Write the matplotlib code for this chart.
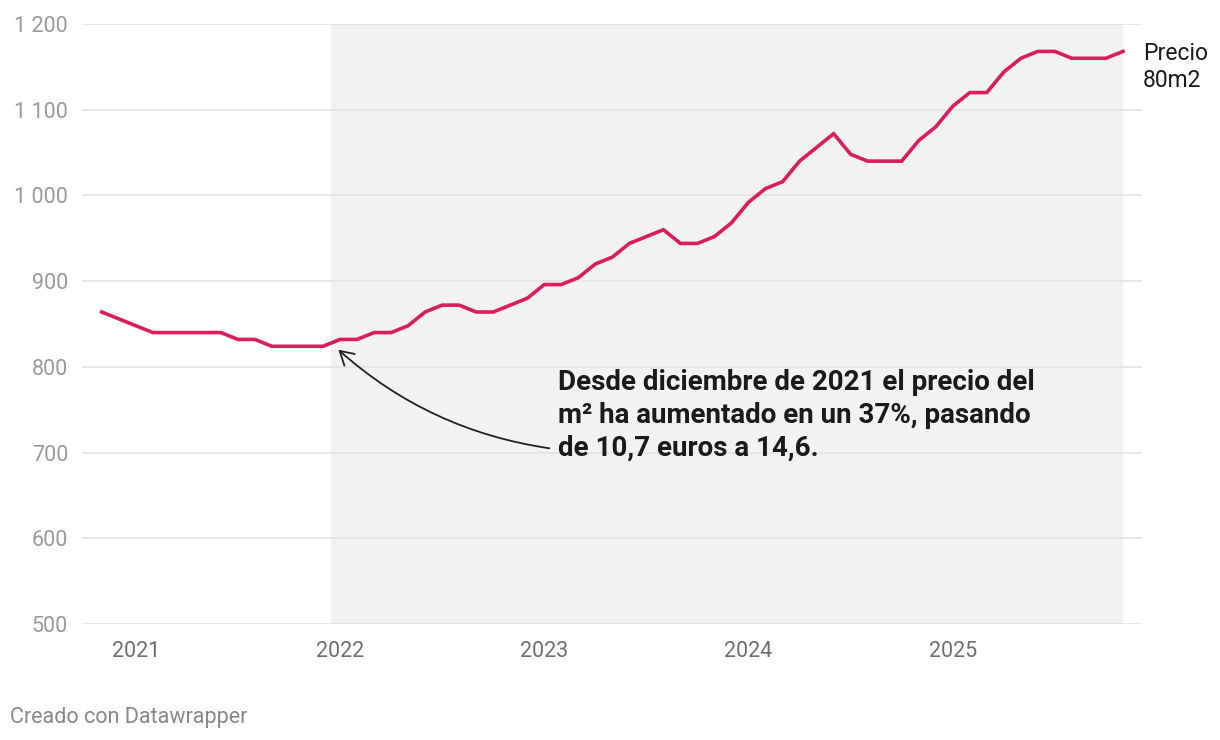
import matplotlib
matplotlib.use("Agg")
import matplotlib.pyplot as plt
import numpy as np

plt.rcParams['font.family'] = ['Roboto', 'DejaVu Sans']

# monthly price of 80 m2, Nov 2020 .. Nov 2025
precio = [864, 856, 848, 840, 840, 840, 840, 840, 832, 832,
          824, 824, 824, 824, 832, 832, 840, 840, 848, 864,
          872, 872, 864, 864, 872, 880, 896, 896, 904, 920,
          928, 944, 952, 960, 944, 944, 952, 968, 992, 1008,
          1016, 1040, 1056, 1072, 1048, 1040, 1040, 1040, 1064, 1080,
          1104, 1120, 1120, 1144, 1160, 1168, 1168, 1160, 1160, 1160,
          1168]
years = ['2021', '2022', '2023', '2024', '2025']
year_idx = [2, 14, 26, 38, 50]          # January of each year, months since Nov 2020
y_ticks = [500, 600, 700, 800, 900, 1000, 1100, 1200]
serie_label = 'Precio\n80m2'
nota = ('Desde diciembre de 2021 el precio del\n'
        'm² ha aumentado en un 37%, pasando\n'
        'de 10,7 euros a 14,6.')

x = np.arange(len(precio))

fig = plt.figure(figsize=(12.2, 7.4), dpi=100)
ax = fig.add_axes([82/1220, 1-624/740, (1142-82)/1220, 600/740])

ax.axvspan(13.47, x[-1], color='#f2f2f2', zorder=0, lw=0)
for v in y_ticks:
    ax.axhline(v, color='#e3e3e3', lw=1.2, zorder=1)

ax.plot(x, precio, color='#dc1c5c', lw=2.6, solid_joinstyle='miter', zorder=3)

ax.set_xlim(-1.16, 61.12)
ax.set_ylim(500, 1200)
ax.set_yticks(y_ticks)
ax.set_yticklabels([f'{v:,}'.replace(',', ' ') for v in y_ticks])
ax.set_xticks(year_idx)
ax.set_xticklabels(years)
ax.tick_params(axis='y', length=0, pad=10, labelsize=15.5, labelcolor='#9a9a9a')
ax.tick_params(axis='x', length=0, pad=12, labelsize=15.5, labelcolor='#6e6e6e')
for s in ax.spines.values():
    s.set_visible(False)

# annotation
ax.text(26.8, 797, nota, fontsize=20, fontweight='bold', color='#1a1a1a',
        va='top', ha='left', linespacing=1.26, zorder=5)
ax.annotate('', xy=(13.9, 820), xytext=(26.3, 705),
            arrowprops=dict(arrowstyle='->,head_length=0.6,head_width=0.35',
                            connectionstyle='arc3,rad=-0.15', color='#222222',
                            lw=1.3, shrinkA=0, shrinkB=0, mutation_scale=16),
            zorder=5)

fig.text(1143/1220, 1-42/740, serie_label, fontsize=16.5, color='#1a1a1a',
         va='top', ha='left', linespacing=1.2)
fig.text(10/1220, 1-723/740, 'Creado con Datawrapper', fontsize=15.5,
         color='#888888', va='baseline', ha='left')

fig.savefig('out.png', dpi=100)
